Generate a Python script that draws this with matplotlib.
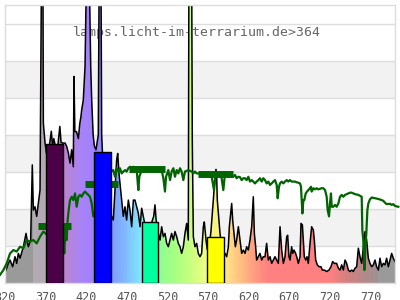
import matplotlib
matplotlib.use('Agg')
import matplotlib.pyplot as plt
import numpy as np
from matplotlib.colors import LinearSegmentedColormap

# lamp spectrum (black line + coloured fill)
spec_wl = [320.0, 321.2, 324.1, 326.2, 329.4, 332.3, 334.4, 336.4, 338.5, 342.6,
           345.9, 348.7, 351.6, 353.6, 354.9, 356.9, 359.0, 361.0, 363.1, 364.3,
           365.5, 366.5, 367.2, 369.2, 371.0, 374.0, 377.0, 378.5, 380.0, 383.0,
           385.0, 387.5, 389.0, 391.0, 393.9, 395.9, 398.0, 400.0, 402.1, 404.1,
           404.9, 406.0, 408.0, 410.3, 412.0, 413.5, 414.4, 416.4, 418.5, 420.0,
           422.0, 424.0, 425.5, 426.7, 428.5, 430.0, 432.0, 434.8, 436.3, 437.8,
           439.0, 441.0, 445.0, 449.2, 451.3, 453.3, 456.2, 457.4, 458.7, 460.3,
           461.5, 463.6, 465.6, 467.7, 469.7, 471.8, 473.8, 475.9, 478.0, 480.0,
           482.1, 484.1, 486.2, 488.2, 492.0, 496.0, 500.0, 503.0, 504.6, 506.0,
           508.7, 510.8, 512.8, 514.9, 516.9, 519.0, 521.0, 523.1, 525.1, 527.2,
           529.2, 531.3, 533.3, 535.4, 537.4, 539.5, 541.5, 543.6, 545.6, 546.5,
           549.5, 550.5, 551.8, 553.8, 555.9, 557.9, 560.0, 562.0, 564.1, 565.3,
           567.4, 569.0, 572.0, 573.5, 576.4, 578.5, 579.7, 580.5, 581.3, 584.6,
           587.0, 589.5, 590.8, 592.8, 594.9, 596.1, 597.7, 599.0, 600.2, 601.8,
           603.5, 605.1, 607.2, 609.2, 611.3, 613.3, 615.4, 617.4, 619.5, 621.5,
           623.6, 625.6, 626.9, 628.5, 629.7, 631.8, 633.8, 635.9, 637.9, 640.0,
           642.0, 644.1, 646.2, 648.2, 650.3, 652.3, 654.4, 656.4, 658.5, 660.5,
           662.6, 664.6, 666.7, 667.9, 669.5, 670.8, 672.8, 674.1, 675.7, 677.7,
           679.0, 681.0, 683.1, 684.3, 686.0, 687.2, 688.4, 690.1, 691.7, 693.3,
           695.4, 697.4, 699.5, 700.7, 702.4, 704.4, 706.5, 708.9, 710.6, 713.0,
           715.9, 718.8, 721.2, 723.3, 725.3, 728.2, 730.3, 732.3, 734.4, 736.4,
           738.5, 740.5, 742.6, 744.6, 746.7, 748.7, 750.8, 752.8, 754.9, 756.9,
           759.0, 763.1, 765.1, 767.2, 769.2, 771.3, 773.3, 775.4, 777.4, 779.5,
           781.5, 783.6, 785.6, 787.7, 789.7, 791.8, 793.9, 795.9, 797.9, 800.0]
spec_val = [0.30, 0.35, 0.53, 0.62, 0.44, 0.71, 0.53, 0.80, 0.67, 0.98,
            1.34, 0.98, 1.16, 3.19, 1.97, 2.06, 1.80, 2.15, 2.51, 6.60,
            10.0, 10.0, 4.32, 3.80, 3.50, 3.60, 4.10, 3.70, 3.90, 3.60,
            3.70, 4.23, 3.80, 3.78, 3.78, 3.69, 3.51, 3.24, 3.60, 3.14,
            5.58, 4.09, 4.09, 3.90, 4.30, 4.50, 4.68, 4.95, 5.85, 8.00,
            10.0, 8.00, 5.85, 4.95, 4.00, 3.70, 3.60, 4.00, 10.0, 10.0,
            4.00, 3.00, 2.40, 1.90, 1.80, 1.70, 2.87, 3.32, 3.50, 2.96,
            2.69, 2.24, 1.80, 2.06, 1.70, 2.24, 1.97, 1.52, 2.24, 2.24,
            2.06, 1.88, 1.52, 2.02, 1.60, 1.50, 1.60, 1.80, 2.11, 1.70,
            1.34, 1.16, 1.52, 1.25, 1.34, 1.07, 0.98, 1.16, 1.34, 1.16,
            1.39, 1.25, 1.07, 0.98, 0.80, 0.98, 1.34, 1.61, 1.16, 10.0,
            10.0, 3.86, 1.25, 0.98, 1.07, 0.80, 0.71, 0.80, 1.52, 1.65,
            1.16, 0.90, 1.10, 1.40, 2.24, 2.90, 3.07, 2.90, 2.24, 1.35,
            0.90, 0.80, 0.80, 0.71, 0.98, 1.52, 1.88, 2.15, 1.70, 1.34,
            0.98, 1.16, 1.52, 1.16, 0.80, 0.89, 0.80, 0.98, 0.89, 1.16,
            1.52, 2.33, 1.34, 0.98, 0.62, 0.71, 0.80, 0.62, 0.71, 0.71,
            1.07, 0.62, 0.71, 0.53, 0.62, 0.71, 0.62, 0.53, 1.52, 0.89,
            0.53, 0.71, 1.25, 1.29, 0.71, 0.62, 0.98, 0.80, 0.89, 0.80,
            0.71, 0.53, 0.71, 1.61, 1.57, 1.16, 0.71, 0.62, 0.71, 0.53,
            1.07, 1.52, 1.43, 1.16, 0.62, 0.49, 0.44, 0.44, 0.35, 0.35,
            0.31, 0.35, 0.44, 0.58, 0.53, 0.53, 0.40, 0.35, 0.49, 0.35,
            0.62, 0.53, 0.35, 0.31, 0.35, 0.31, 0.40, 0.44, 0.94, 0.71,
            0.53, 1.39, 1.16, 0.67, 0.53, 0.44, 0.49, 0.62, 0.44, 0.35,
            0.67, 0.44, 0.53, 0.49, 0.67, 0.44, 0.62, 0.80, 0.67, 0.58]

# green curve
trans_wl = [313.9, 318.0, 322.1, 326.2, 330.3, 334.4, 338.5, 342.6, 346.7, 350.8,
            354.9, 359.0, 363.1, 367.2, 372.0, 380.0, 388.0, 391.8, 393.0, 394.3,
            395.9, 397.1, 398.4, 400.0, 402.1, 404.1, 406.2, 408.2, 410.3, 412.3,
            414.4, 416.4, 418.5, 420.5, 422.6, 424.6, 426.7, 428.7, 432.0, 440.0,
            447.0, 450.1, 453.3, 455.4, 457.4, 459.5, 461.5, 463.6, 465.6, 467.7,
            469.7, 471.8, 473.8, 475.9, 478.0, 480.0, 482.1, 484.1, 485.3, 488.2,
            492.3, 496.4, 500.5, 504.6, 508.7, 512.8, 514.9, 516.9, 518.2, 521.0,
            523.1, 525.1, 527.2, 529.2, 531.3, 533.3, 535.4, 537.4, 539.5, 541.5,
            545.6, 549.7, 551.8, 553.8, 555.9, 558.0, 562.0, 566.0, 570.0, 574.0,
            577.2, 579.0, 583.0, 586.0, 588.7, 590.5, 594.0, 598.0, 601.0, 603.1,
            605.1, 607.2, 609.2, 611.3, 613.3, 615.4, 617.4, 619.5, 621.5, 623.6,
            625.6, 627.7, 629.7, 631.8, 633.8, 635.9, 637.9, 640.0, 642.0, 644.1,
            646.2, 648.2, 650.3, 652.3, 654.4, 655.6, 657.2, 658.5, 660.5, 662.6,
            664.6, 666.7, 668.7, 670.8, 672.8, 676.9, 679.0, 681.0, 683.1, 684.3,
            686.0, 687.2, 688.4, 690.1, 691.7, 693.3, 695.4, 696.6, 697.4, 699.5,
            701.5, 703.6, 705.6, 709.7, 711.8, 713.9, 715.9, 717.1, 718.8, 720.0,
            721.2, 722.1, 724.1, 726.2, 728.2, 730.3, 732.3, 734.4, 736.4, 738.5,
            740.5, 742.6, 744.6, 746.7, 750.8, 754.9, 759.0, 759.8, 761.0, 762.3,
            763.5, 764.7, 766.0, 767.2, 769.2, 771.3, 775.4, 779.5, 783.6, 785.6,
            787.7, 789.7, 793.9, 795.9, 797.9, 800.0, 804.1]
trans_val = [0.22, 0.35, 0.53, 0.80, 0.89, 0.85, 0.98, 0.94, 1.16, 1.12,
             1.16, 1.07, 1.25, 1.39, 1.30, 1.20, 1.10, 1.16, 0.80, 1.52,
             1.16, 1.70, 1.97, 2.24, 2.33, 2.24, 2.42, 2.06, 2.33, 2.38,
             2.33, 2.42, 2.47, 2.42, 2.38, 2.33, 2.15, 1.80, 2.00, 2.60,
             2.95, 3.01, 3.05, 2.87, 3.10, 3.01, 3.10, 2.96, 3.01, 3.05,
             3.01, 3.10, 3.14, 3.05, 3.14, 3.01, 3.05, 2.51, 2.87, 3.05,
             3.10, 3.05, 3.10, 3.05, 3.01, 3.05, 2.83, 2.47, 2.87, 3.05,
             2.78, 3.01, 3.10, 2.87, 3.05, 2.96, 3.10, 3.01, 2.78, 3.01,
             3.05, 3.01, 2.96, 3.01, 2.96, 2.96, 2.92, 2.98, 2.95, 2.92,
             2.51, 2.90, 2.95, 2.92, 2.51, 2.90, 2.95, 2.90, 2.87, 2.92,
             2.83, 2.87, 2.86, 2.78, 2.83, 2.83, 2.78, 2.87, 2.74, 2.78,
             2.74, 2.69, 2.74, 2.78, 2.83, 2.74, 2.83, 2.78, 2.69, 2.74,
             2.65, 2.69, 2.74, 2.78, 2.65, 2.29, 2.60, 2.69, 2.74, 2.69,
             2.74, 2.78, 2.74, 2.78, 2.74, 2.74, 2.72, 2.71, 2.69, 2.60,
             1.88, 2.24, 2.24, 2.42, 2.47, 2.51, 2.56, 2.60, 2.47, 2.56,
             2.53, 2.56, 2.53, 2.56, 2.56, 2.51, 2.33, 1.97, 1.80, 2.15,
             2.42, 2.06, 2.06, 2.11, 2.06, 2.15, 2.33, 2.38, 2.33, 2.38,
             2.40, 2.42, 2.44, 2.44, 2.40, 2.38, 2.33, 1.43, 1.16, 0.35,
             0.98, 1.34, 1.97, 2.15, 2.26, 2.31, 2.29, 2.27, 2.24, 2.22,
             2.17, 2.13, 2.14, 2.11, 2.13, 2.08, 2.06]

# green band averages
block_lo = [361, 419, 472, 557]
block_hi = [401, 459, 517, 600]
block_val = [1.55, 2.68, 3.07, 2.95]

# bars
bar_lo = [370, 430, 488, 569]
bar_hi = [391, 450, 508, 590]
bar_val = [3.75, 3.53, 1.66, 1.235]
bar_colors = ['#4b0048', '#0000ff', '#00ff9f', '#ffff00']

title = 'lamps.licht-im-terrarium.de>364'
xticks = [320, 370, 420, 470, 520, 570, 620, 670, 720, 770]


def spectrum_cmap():
    stops = [(320, '#9a9a9a'), (352, '#9a9a9a'), (352.5, '#b2acb2'), (370, '#b4a8b6'),
             (391, '#bc86cc'), (412, '#aa84f6'), (430, '#a080ff'), (450, '#8098ff'),
             (470, '#80c0ff'), (487, '#80e8ff'), (507, '#88ff98'), (530, '#a8ff80'),
             (560, '#e0ff80'), (568, '#f0ff80'), (590, '#ffe888'), (610, '#ffc080'),
             (630, '#ff9880'), (645, '#ff8080'), (720, '#ff8080'), (740, '#d88080'),
             (760, '#b88888'), (780, '#a09292'), (781, '#9a9a9a'), (800, '#9a9a9a')]
    return LinearSegmentedColormap.from_list(
        'lamp', [((w - 320) / 480.0, c) for w, c in stops])


plt.rcParams['font.family'] = 'DejaVu Sans Mono'

fig = plt.figure(figsize=(4, 3), dpi=100)
ax = fig.add_axes([5 / 400, 17 / 300, 390 / 400, 278 / 300])

for lo in (1, 3, 5):
    ax.axhspan(lo, lo + 1, color='#f2f2f2', lw=0, zorder=0)
for y in range(1, 8):
    ax.axhline(y, color='#dddddd', lw=1, zorder=0.5)

ax.text(556, 6.78, title, ha='center', va='center', fontsize=9.5,
        color='#666666', zorder=0.8)

poly = ax.fill_between(spec_wl, spec_val, 0, facecolor='none', edgecolor='none')
xs = np.linspace(320, 800, 481)
img = ax.imshow(xs[None, :], cmap=spectrum_cmap(), vmin=320, vmax=800,
                extent=(320, 800, 0, 7.51), aspect='auto', origin='lower',
                interpolation='nearest', zorder=1)
img.set_clip_path(poly.get_paths()[0], transform=ax.transData)
ax.plot(spec_wl, spec_val, color='black', lw=1.1, zorder=2)

ax.plot(trans_wl, trans_val, color='#006400', lw=1.6, zorder=3, clip_on=False)
for lo, hi, v in zip(block_lo, block_hi, block_val):
    ax.plot([lo, hi], [v, v], color='#006400', lw=5, solid_capstyle='butt', zorder=3)

ax.bar(bar_lo, bar_val, width=np.array(bar_hi) - np.array(bar_lo), align='edge',
       color=bar_colors, edgecolor='black', linewidth=1, zorder=4)

ax.set_xlim(320, 800)
ax.set_ylim(0, 7.51)
ax.set_xticks(xticks)
ax.set_yticks([])
ax.tick_params(axis='x', length=0, pad=6, labelsize=8.5, labelcolor='#555555')
for s in ax.spines.values():
    s.set_color('#dddddd')
    s.set_linewidth(1)

fig.savefig('out.png', dpi=100)
